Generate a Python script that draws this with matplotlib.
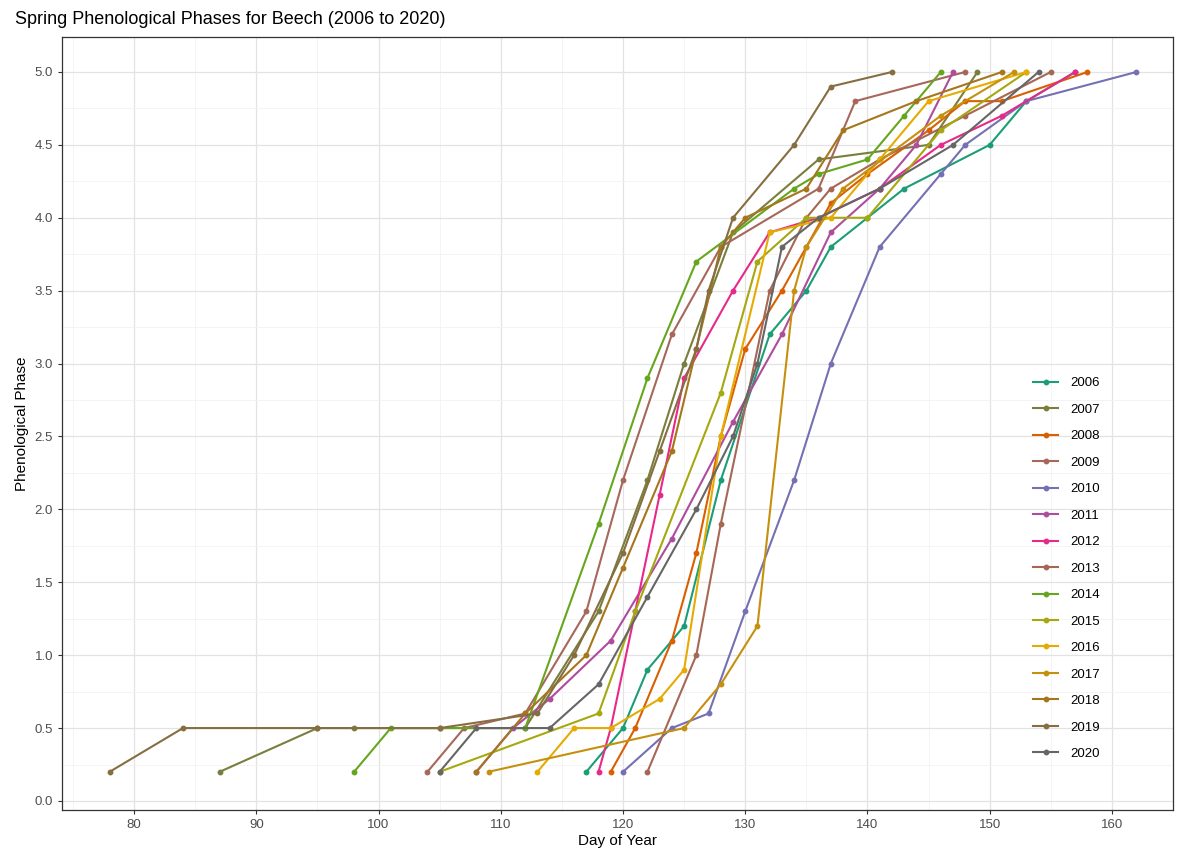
import matplotlib
matplotlib.use("Agg")
import matplotlib.pyplot as plt
from matplotlib.ticker import MultipleLocator

years = ["2006", "2007", "2008", "2009", "2010", "2011", "2012", "2013",
         "2014", "2015", "2016", "2017", "2018", "2019", "2020"]
colors = ["#1B9E77", "#7A7E3C", "#D95F02", "#A7675A", "#7570B3", "#AE4C9E",
          "#E7298A", "#A66754", "#66A61E", "#A6A810", "#E6AB02", "#C6900F",
          "#A6761D", "#866E41", "#666666"]

days_2006 = [117, 120, 122, 125, 128, 132, 135, 137, 140, 143, 150, 153, 157]
phase_2006 = [0.2, 0.5, 0.9, 1.2, 2.2, 3.2, 3.5, 3.8, 4.0, 4.2, 4.5, 4.8, 5.0]
days_2007 = [87, 95, 98, 105, 112, 118, 122, 125, 129, 136, 145, 149]
phase_2007 = [0.2, 0.5, 0.5, 0.5, 0.5, 1.3, 2.2, 3.0, 3.9, 4.4, 4.5, 5.0]
days_2008 = [119, 121, 124, 126, 128, 130, 133, 135, 137, 140, 145, 148, 151, 158]
phase_2008 = [0.2, 0.5, 1.1, 1.7, 2.5, 3.1, 3.5, 3.8, 4.1, 4.3, 4.6, 4.8, 4.8, 5.0]
days_2009 = [104, 107, 112, 117, 120, 124, 128, 136, 139, 148]
phase_2009 = [0.2, 0.5, 0.6, 1.3, 2.2, 3.2, 3.8, 4.2, 4.8, 5.0]
days_2010 = [120, 124, 127, 130, 134, 137, 141, 146, 148, 153, 162]
phase_2010 = [0.2, 0.5, 0.6, 1.3, 2.2, 3.0, 3.8, 4.3, 4.5, 4.8, 5.0]
days_2011 = [108, 111, 114, 119, 124, 129, 133, 137, 141, 144, 147]
phase_2011 = [0.2, 0.5, 0.7, 1.1, 1.8, 2.6, 3.2, 3.9, 4.2, 4.5, 5.0]
days_2012 = [118, 119, 121, 123, 125, 129, 132, 136, 141, 146, 151, 157]
phase_2012 = [0.2, 0.5, 1.3, 2.1, 2.9, 3.5, 3.9, 4.0, 4.2, 4.5, 4.7, 5.0]
days_2013 = [122, 126, 128, 132, 135, 137, 141, 148, 155]
phase_2013 = [0.2, 1.0, 1.9, 3.5, 4.0, 4.2, 4.4, 4.7, 5.0]
days_2014 = [98, 101, 112, 118, 122, 126, 134, 136, 140, 143, 146]
phase_2014 = [0.2, 0.5, 0.5, 1.9, 2.9, 3.7, 4.2, 4.3, 4.4, 4.7, 5.0]
days_2015 = [105, 118, 121, 128, 131, 135, 140, 146, 153]
phase_2015 = [0.2, 0.6, 1.3, 2.8, 3.7, 4.0, 4.0, 4.6, 5.0]
days_2016 = [113, 116, 119, 123, 125, 128, 132, 137, 141, 145, 153]
phase_2016 = [0.2, 0.5, 0.5, 0.7, 0.9, 2.5, 3.9, 4.0, 4.4, 4.8, 5.0]
days_2017 = [109, 125, 128, 131, 134, 135, 138, 146, 152]
phase_2017 = [0.2, 0.5, 0.8, 1.2, 3.5, 3.8, 4.2, 4.7, 5.0]
days_2018 = [108, 112, 117, 120, 124, 126, 128, 130, 135, 138, 144, 151]
phase_2018 = [0.2, 0.6, 1.0, 1.6, 2.4, 3.1, 3.8, 4.0, 4.2, 4.6, 4.8, 5.0]
days_2019 = [78, 84, 95, 105, 113, 116, 120, 123, 126, 127, 129, 134, 137, 142]
phase_2019 = [0.2, 0.5, 0.5, 0.5, 0.6, 1.0, 1.7, 2.4, 3.1, 3.5, 4.0, 4.5, 4.9, 5.0]
days_2020 = [105, 108, 114, 118, 122, 126, 129, 131, 133, 136, 141, 147, 154]
phase_2020 = [0.2, 0.5, 0.5, 0.8, 1.4, 2.0, 2.5, 3.0, 3.8, 4.0, 4.2, 4.5, 5.0]

all_days = [days_2006, days_2007, days_2008, days_2009, days_2010, days_2011,
            days_2012, days_2013, days_2014, days_2015, days_2016, days_2017,
            days_2018, days_2019, days_2020]
all_phase = [phase_2006, phase_2007, phase_2008, phase_2009, phase_2010,
             phase_2011, phase_2012, phase_2013, phase_2014, phase_2015,
             phase_2016, phase_2017, phase_2018, phase_2019, phase_2020]

plt.rcParams['font.family'] = ['Liberation Sans', 'DejaVu Sans']

fig = plt.figure(figsize=(11.87, 8.49), dpi=100)
ax = fig.add_axes([62 / 1187, 1 - 810 / 849, (1173 - 62) / 1187, (810 - 37) / 849])

for yr, d, p, c in zip(years, all_days, all_phase, colors):
    ax.plot(d, p, color=c, lw=1.5, marker='o', ms=3.2, label=yr, zorder=3)

ax.set_xlim(74.1, 165.0)
ax.set_ylim(-0.062, 5.24)
ax.xaxis.set_major_locator(MultipleLocator(10))
ax.xaxis.set_minor_locator(MultipleLocator(5))
ax.yaxis.set_major_locator(MultipleLocator(0.5))
ax.yaxis.set_minor_locator(MultipleLocator(0.25))
ax.yaxis.set_major_formatter(matplotlib.ticker.FormatStrFormatter('%.1f'))
ax.grid(which='major', color='#E3E3E3', lw=0.9, zorder=0)
ax.grid(which='minor', color='#F2F2F2', lw=0.6, zorder=0)
ax.set_axisbelow(True)
ax.tick_params(which='major', length=3, color='#333333', labelcolor='#4D4D4D',
               labelsize=9.5)
ax.tick_params(which='minor', length=0)
for s in ax.spines.values():
    s.set_color('#333333')
    s.set_linewidth(0.9)

ax.set_xlabel('Day of Year', fontsize=11, color='black', labelpad=2)
ax.set_ylabel('Phenological Phase', fontsize=11, color='black', labelpad=4)
fig.text(15 / 1187, 1 - 20 / 849, 'Spring Phenological Phases for Beech (2006 to 2020)',
         fontsize=13, ha='left', va='center', color='black')

leg = ax.legend(loc='upper left', bbox_to_anchor=((1033 - 62) / 1111, (810 - 377) / 773),
                frameon=False, fontsize=9.5, handlelength=1.9, labelspacing=1.08,
                handletextpad=0.9, borderaxespad=0, borderpad=0)

fig.savefig('out.png', dpi=100, facecolor='white')
